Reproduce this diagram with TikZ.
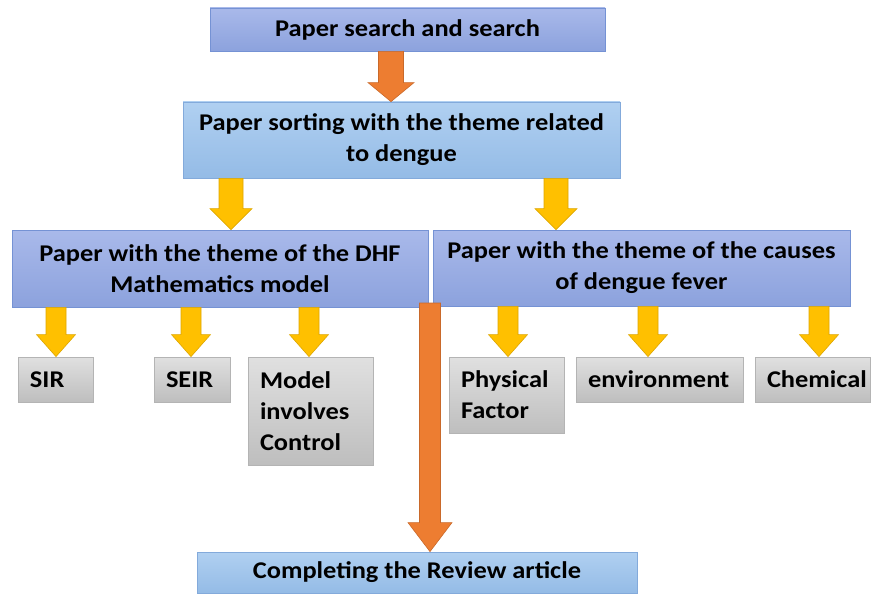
\documentclass[tikz,border=0pt]{standalone}
\usepackage{fontspec}
\setmainfont{Carlito}[FakeStretch=1.1]
\usetikzlibrary{calc}
\definecolor{bluetopA}{HTML}{A9B9EA}
\definecolor{bluebotA}{HTML}{8CA2DD}
\definecolor{blueline}{HTML}{7592D4}
\definecolor{bluetopB}{HTML}{B0D0F1}
\definecolor{bluebotB}{HTML}{94BBE6}
\definecolor{bluelineB}{HTML}{83AADB}
\definecolor{graytop}{HTML}{E0E0E0}
\definecolor{graybot}{HTML}{BEBEBE}
\definecolor{grayline}{HTML}{B4B4B4}
\definecolor{orangeF}{HTML}{ED7D31}
\definecolor{orangeL}{HTML}{C9692A}
\definecolor{yellowF}{HTML}{FFC000}
\definecolor{yellowL}{HTML}{DDA600}
\newcommand\blockarrow[7]{%
  \path[#1] let \p1=(#2,0 |- #3), \p2=(#2,0 |- #4) in
    (\x1-#5,\y1) -- (\x1+#5,\y1) -- (\x1+#5,\y2+#7) -- (\x1+#6,\y2+#7)
    -- (\x1,\y2) -- (\x1-#6,\y2+#7) -- (\x1-#5,\y2+#7) -- cycle;}
\tikzset{
  txt/.style={font=\fontsize{24}{31}\selectfont\bfseries, text=black, inner sep=0pt},
  boxA/.style={txt, draw=blueline, line width=0.8pt, top color=bluetopA, bottom color=bluebotA, align=center},
  boxB/.style={txt, draw=bluelineB, line width=0.8pt, top color=bluetopB, bottom color=bluebotB, align=center},
  grayb/.style={txt, draw=grayline, line width=0.8pt, top color=graytop, bottom color=graybot, align=left, inner xsep=12pt},
  orangeA/.style={fill=orangeF, draw=orangeL, line width=0.6pt},
  yellowA/.style={fill=yellowF, draw=yellowL, line width=0.6pt},
}
\begin{document}
\begin{tikzpicture}[x=1pt,y=-1pt]
\useasboundingbox (0,0) rectangle (871,594);
\node[boxA, minimum width=395pt, minimum height=43pt] (top) at (407.5,29.5) {Paper search and search};
\node[boxB, minimum width=437pt, minimum height=76pt] (sort) at (401.5,140) {Paper sorting with the theme related\\to dengue};
\node[boxA, minimum width=416pt, minimum height=77pt] (math) at (220,268.5) {Paper with the theme of the DHF\\Mathematics model};
\node[boxA, minimum width=417pt, minimum height=76pt] (cause) at (641.5,268) {Paper with the theme of the causes\\of dengue fever};
\node[grayb, text width=51pt, minimum height=45pt] (sir) at (55.5,379.5) {SIR};
\node[grayb, text width=52pt, minimum height=45pt] (seir) at (192,379.5) {SEIR};
\node[grayb, text width=101pt, minimum height=108pt] (ctrl) at (310.5,411) {Model\\involves\\Control};
\node[grayb, text width=91pt, minimum height=76pt] (phys) at (506.5,395) {Physical\\Factor};
\node[grayb, text width=143pt, minimum height=45pt] (env) at (659.5,379.5) {environment};
\node[grayb, text width=91pt, minimum height=45pt] (chem) at (812.5,379.5) {Chemical};
\node[boxB, minimum width=440pt, minimum height=41pt] (rev) at (417,572.5) {Completing the Review article};
% arrows
\blockarrow{orangeA}{391}{top.south}{sort.north}{12.5pt}{23pt}{19pt}
\blockarrow{yellowA}{231}{sort.south}{math.north}{12pt}{21pt}{21pt}
\blockarrow{yellowA}{556}{sort.south}{cause.north}{12pt}{21pt}{21pt}
\blockarrow{yellowA}{56}{math.south}{sir.north}{10pt}{19.5pt}{22pt}
\blockarrow{yellowA}{191}{math.south}{seir.north}{10pt}{19.5pt}{22pt}
\blockarrow{yellowA}{309}{math.south}{ctrl.north}{10pt}{19.5pt}{22pt}
\blockarrow{yellowA}{508}{cause.south}{phys.north}{10pt}{19.5pt}{22pt}
\blockarrow{yellowA}{648}{cause.south}{env.north}{10pt}{19.5pt}{22pt}
\blockarrow{yellowA}{819}{cause.south}{chem.north}{10pt}{19.5pt}{22pt}
\coordinate (barTop) at (430,303);
\blockarrow{orangeA}{430}{barTop}{rev.north}{10.5pt}{22pt}{29pt}
\end{tikzpicture}
\end{document}
